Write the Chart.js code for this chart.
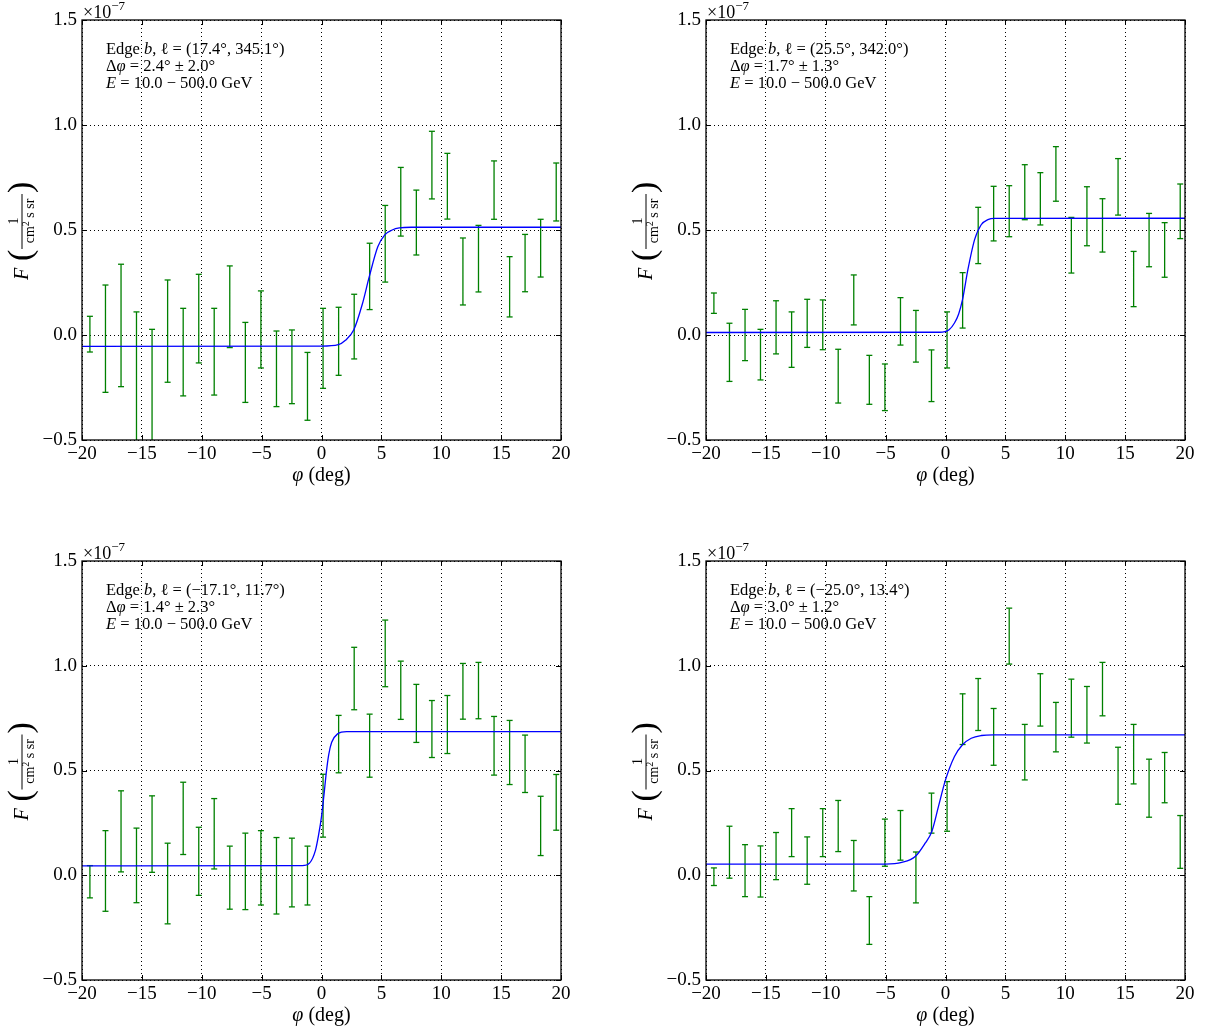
<!DOCTYPE html>
<html>
<head>
<meta charset="utf-8">
<script src="https://cdn.jsdelivr.net/npm/chart.js@4.4.0/dist/chart.umd.min.js"></script>
<style>
body { margin:0; background:#fff; width:1205px; height:1032px; overflow:hidden; position:relative; }
canvas { position:absolute; }
</style>
</head>
<body>
<canvas id="c1" width="581" height="490" style="left:0px;top:0px"></canvas>
<canvas id="c2" width="581" height="490" style="left:624px;top:0px"></canvas>
<canvas id="c3" width="581" height="489" style="left:0px;top:541px"></canvas>
<canvas id="c4" width="581" height="489" style="left:624px;top:541px"></canvas>
<script>
const FONT = "'Liberation Serif', 'DejaVu Serif', serif";

// bin centres (deg)
const phi = [-19.34, -18.04, -16.74, -15.45, -14.15, -12.85, -11.55, -10.25, -8.96, -7.66,
  -6.36, -5.06, -3.76, -2.47, -1.17, 0.13, 1.43, 2.73, 4.02, 5.32,
  6.62, 7.92, 9.22, 10.51, 11.81, 13.11, 14.41, 15.71, 17.00, 18.30, 19.60];

// error bar tops / bottoms (units of 1e-7)
const p1Hi = [0.089, 0.238, 0.337, 0.110, 0.027, 0.262, 0.127, 0.289, 0.127, 0.329, 0.060, 0.210, 0.019, 0.024, -0.083, 0.127,
  0.132, 0.194, 0.437, 0.617, 0.798, 0.690, 0.970, 0.865, 0.462, 0.522, 0.829, 0.373, 0.479, 0.551, 0.819];
const p1Lo = [-0.081, -0.273, -0.246, -0.62, -0.56, -0.225, -0.290, -0.133, -0.286, -0.060, -0.321, -0.157, -0.341, -0.327, -0.406, -0.254,
  -0.192, -0.114, 0.121, 0.252, 0.471, 0.381, 0.648, 0.552, 0.143, 0.205, 0.551, 0.086, 0.206, 0.276, 0.543];

const p2Hi = [0.200, 0.056, 0.122, 0.027, 0.163, 0.110, 0.170, 0.167, -0.068, 0.286, -0.097, -0.138, 0.178, 0.117, -0.071, 0.110,
  0.297, 0.608, 0.708, 0.711, 0.811, 0.773, 0.897, 0.560, 0.706, 0.649, 0.840, 0.398, 0.579, 0.535, 0.719];
const p2Lo = [0.103, -0.221, -0.122, -0.214, -0.090, -0.154, -0.059, -0.070, -0.324, 0.048, -0.330, -0.360, -0.048, -0.129, -0.317, -0.157,
  0.033, 0.340, 0.448, 0.468, 0.549, 0.524, 0.637, 0.295, 0.425, 0.395, 0.571, 0.135, 0.325, 0.275, 0.459];

const p3Hi = [0.046, 0.213, 0.403, 0.225, 0.379, 0.153, 0.444, 0.229, 0.366, 0.139, 0.201, 0.213, 0.180, 0.177, 0.139, 0.482,
  0.763, 1.088, 0.769, 1.218, 1.022, 0.911, 0.834, 0.858, 1.011, 1.016, 0.758, 0.739, 0.669, 0.377, 0.481];
const p3Lo = [-0.108, -0.172, 0.016, -0.131, 0.014, -0.232, 0.099, -0.096, 0.030, -0.162, -0.164, -0.142, -0.185, -0.151, -0.142, 0.182,
  0.489, 0.790, 0.468, 0.900, 0.744, 0.634, 0.562, 0.581, 0.745, 0.747, 0.478, 0.433, 0.395, 0.094, 0.215];

const p4Hi = [0.035, 0.234, 0.146, 0.140, 0.204, 0.318, 0.183, 0.318, 0.357, 0.166, -0.102, 0.268, 0.309, 0.111, 0.392, 0.447,
  0.866, 0.939, 0.796, 1.275, 0.720, 0.962, 0.825, 0.936, 0.901, 1.016, 0.611, 0.720, 0.554, 0.586, 0.285];
const p4Lo = [-0.049, -0.014, -0.102, -0.104, -0.021, 0.089, -0.043, 0.089, 0.113, -0.075, -0.330, 0.043, 0.072, -0.132, 0.201, 0.210,
  0.624, 0.691, 0.525, 1.008, 0.455, 0.712, 0.589, 0.659, 0.631, 0.761, 0.339, 0.436, 0.277, 0.346, 0.033];

// fitted step curves
const fit1X = [-20, 0, 1.4, 2.0, 2.7, 3.4, 4.0, 4.7, 5.3, 5.9, 6.5, 7.5, 20];
const fit1Y = [-0.054, -0.053, -0.046, -0.025, 0.025, 0.145, 0.28, 0.42, 0.478, 0.50, 0.51, 0.513, 0.513];
const fit2X = [-20, -0.5, 0.3, 0.75, 1.1, 1.42, 1.87, 2.43, 2.98, 3.54, 4.1, 20];
const fit2Y = [0.012, 0.013, 0.025, 0.057, 0.10, 0.168, 0.311, 0.454, 0.525, 0.549, 0.555, 0.556];
const fit3X = [-20, -1.6, -1.0, -0.5, -0.25, 0, 0.2, 0.4, 0.6, 0.85, 1.35, 2.1, 20];
const fit3Y = [0.045, 0.046, 0.058, 0.12, 0.19, 0.28, 0.38, 0.49, 0.575, 0.635, 0.675, 0.686, 0.686];
const fit4X = [-20, -5, -3.65, -2.53, -1.7, -1.14, -0.58, 0, 0.75, 1.42, 2.15, 3.0, 4.0, 20];
const fit4Y = [0.053, 0.053, 0.061, 0.089, 0.153, 0.209, 0.33, 0.455, 0.567, 0.623, 0.654, 0.667, 0.670, 0.670];

// text boxes
const edgeLon = ['(17.4°, 345.1°)', '(25.5°, 342.0°)', '(\u221217.1°, 11.7°)', '(\u221225.0°, 13.4°)'];
const edgeWidth = ['2.4° ± 2.0°', '1.7° ± 1.3°', '1.4° ± 2.3°', '3.0° ± 1.2°'];
const energyRange = '10.0 \u2212 500.0 GeV';

function minus(s) { return String(s).replace('-', '\u2212'); }

function drawParts(ctx, parts, x, y, size) {
  parts.forEach(function (p) {
    ctx.font = (p[1] ? 'italic ' : '') + size + 'px ' + FONT;
    ctx.fillText(p[0], x, y);
    x += ctx.measureText(p[0]).width;
  });
  return x;
}

const framePlugin = {
  id: 'frame',
  afterDraw: function (chart) {
    const ctx = chart.ctx, ca = chart.chartArea;
    const idx = chart.options.plugins.frame.idx;
    ctx.save();
    ctx.strokeStyle = '#000';
    ctx.lineWidth = 1.3;
    ctx.strokeRect(ca.left, ca.top, ca.right - ca.left, ca.bottom - ca.top);
    // inward ticks on all four sides
    ctx.lineWidth = 1;
    chart.scales.x.ticks.forEach(function (t) {
      const px = Math.round(chart.scales.x.getPixelForValue(t.value)) + 0.5;
      ctx.beginPath();
      ctx.moveTo(px, ca.bottom); ctx.lineTo(px, ca.bottom - 5);
      ctx.moveTo(px, ca.top); ctx.lineTo(px, ca.top + 5);
      ctx.stroke();
    });
    chart.scales.y.ticks.forEach(function (t) {
      const py = Math.round(chart.scales.y.getPixelForValue(t.value)) + 0.5;
      ctx.beginPath();
      ctx.moveTo(ca.left, py); ctx.lineTo(ca.left + 5, py);
      ctx.moveTo(ca.right, py); ctx.lineTo(ca.right - 5, py);
      ctx.stroke();
    });

    ctx.fillStyle = '#000';
    ctx.textBaseline = 'alphabetic';
    ctx.textAlign = 'left';
    // offset label
    ctx.font = '18px ' + FONT;
    ctx.fillText('\u00d710', ca.left + 1, ca.top - 2);
    const w = ctx.measureText('\u00d710').width;
    ctx.font = '13px ' + FONT;
    ctx.fillText('\u22127', ca.left + 1 + w, ca.top - 10);

    // info box
    const ax = ca.left + 24, ay = ca.top + 34;
    drawParts(ctx, [['Edge ', 0], ['b', 1], [', ', 0], ['\u2113', 0], [' = ' + edgeLon[idx], 0]], ax, ay, 16.5);
    drawParts(ctx, [['\u0394', 0], ['\u03c6', 1], [' = ' + edgeWidth[idx], 0]], ax, ay + 17, 16.5);
    drawParts(ctx, [['E', 1], [' = ' + energyRange, 0]], ax, ay + 34, 16.5);

    // x title
    ctx.font = 'italic 20px ' + FONT;
    const wPhi = ctx.measureText('\u03c6').width;
    ctx.font = '20px ' + FONT;
    const wDeg = ctx.measureText(' (deg)').width;
    const xt = (ca.left + ca.right) / 2 - (wPhi + wDeg) / 2;
    drawParts(ctx, [['\u03c6', 1], [' (deg)', 0]], xt, ca.bottom + 41, 20);

    // y title: F (1 / cm^2 s sr), rotated
    ctx.translate(ca.left - 60, (ca.top + ca.bottom) / 2);
    ctx.rotate(-Math.PI / 2);
    ctx.font = 'italic 20px ' + FONT;
    ctx.fillText('F', -50, 6);
    ctx.font = '34px ' + FONT;
    ctx.textBaseline = 'middle';
    ctx.fillText('(', -31, 0);
    ctx.fillText(')', 37, 0);
    ctx.textBaseline = 'alphabetic';
    ctx.textAlign = 'center';
    ctx.font = '14px ' + FONT;
    ctx.fillText('1', 9, -4);
    ctx.lineWidth = 1;
    ctx.beginPath();
    ctx.moveTo(-19, 0); ctx.lineTo(36, 0);
    ctx.stroke();
    ctx.textAlign = 'left';
    ctx.font = '14px ' + FONT;
    const wa = ctx.measureText('cm').width, wb = ctx.measureText(' s sr').width;
    ctx.font = '10px ' + FONT;
    const w2 = ctx.measureText('2').width;
    let dx = 9 - (wa + w2 + wb) / 2;
    ctx.font = '14px ' + FONT;
    ctx.fillText('cm', dx, 12);
    ctx.font = '10px ' + FONT;
    ctx.fillText('2', dx + wa, 7);
    ctx.font = '14px ' + FONT;
    ctx.fillText(' s sr', dx + wa + w2, 12);
    ctx.restore();
  }
};

function buildPanel(id, idx, hi, lo, fitX, fitY) {
  const bars = [], caps = [];
  phi.forEach(function (x, i) {
    bars.push({ x: x, y: lo[i] }, { x: x, y: hi[i] }, { x: x, y: null });
    caps.push({ x: x, y: hi[i] }, { x: x, y: lo[i] });
  });
  const fit = fitX.map(function (x, i) { return { x: x, y: fitY[i] }; });

  new Chart(document.getElementById(id), {
    type: 'line',
    data: {
      datasets: [
        { data: fit, borderColor: '#0000ff', borderWidth: 1.3, pointRadius: 0, cubicInterpolationMode: 'monotone', clip: 0 },
        { data: bars, borderColor: '#008000', borderWidth: 1.3, pointRadius: 0, spanGaps: false, clip: 0 },
        { data: caps, showLine: false, pointStyle: 'line', pointRadius: 3, borderColor: '#008000', pointBorderWidth: 1.3, clip: 0 }
      ]
    },
    options: {
      responsive: false,
      animation: false,
      events: [],
      layout: { padding: { top: 20, right: 20, left: 0, bottom: 0 } },
      plugins: { legend: { display: false }, tooltip: { enabled: false }, frame: { idx: idx } },
      scales: {
        x: {
          type: 'linear', min: -20, max: 20,
          ticks: { stepSize: 5, padding: 3, maxRotation: 0, color: '#000', font: { family: FONT, size: 19 },
            callback: function (v) { return minus(v); } },
          grid: { color: '#000', lineWidth: 1, drawTicks: false },
          border: { display: false, dash: [1, 3] },
          afterFit: function (s) { s.height = 50; }
        },
        y: {
          min: -0.5, max: 1.5,
          ticks: { stepSize: 0.5, padding: 5, color: '#000', font: { family: FONT, size: 19 },
            callback: function (v) { return minus(v.toFixed(1)); } },
          grid: { color: '#000', lineWidth: 1, drawTicks: false },
          border: { display: false, dash: [1, 3] },
          afterFit: function (s) { s.width = 82; }
        }
      }
    },
    plugins: [framePlugin]
  });
}

buildPanel('c1', 0, p1Hi, p1Lo, fit1X, fit1Y);
buildPanel('c2', 1, p2Hi, p2Lo, fit2X, fit2Y);
buildPanel('c3', 2, p3Hi, p3Lo, fit3X, fit3Y);
buildPanel('c4', 3, p4Hi, p4Lo, fit4X, fit4Y);
</script>
</body>
</html>
